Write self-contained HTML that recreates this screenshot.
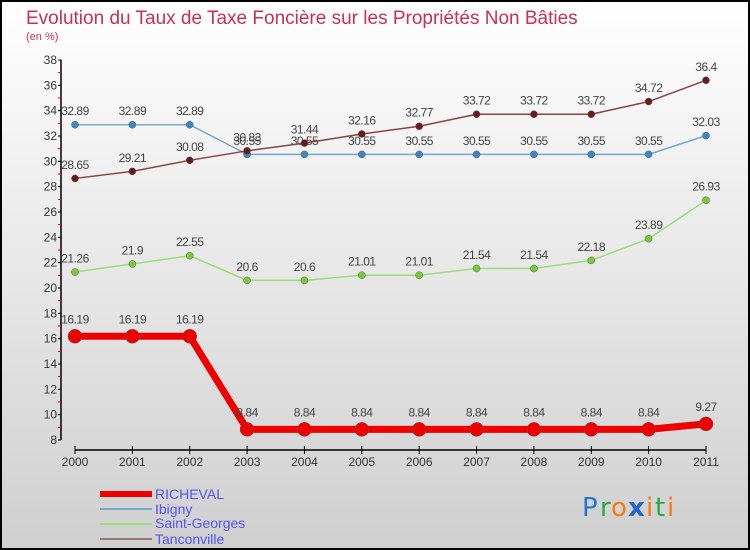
<!DOCTYPE html>
<html><head><meta charset="utf-8"><style>
body{margin:0}
svg{display:block;font-family:"Liberation Sans",sans-serif}
</style></head><body>
<svg id="chart" width="750" height="550" xmlns="http://www.w3.org/2000/svg">
<defs><linearGradient id="bg" x1="0" y1="0" x2="0" y2="1"><stop offset="0" stop-color="#ffffff"/><stop offset="1" stop-color="#cfcfcf"/></linearGradient></defs>
<rect x="1" y="1" width="748" height="548" fill="url(#bg)" stroke="#000" stroke-width="2"/>
<text x="26" y="24" font-size="19" fill="#c8305a">Evolution du Taux de Taxe Foncière sur les Propriétés Non Bâties</text>
<text x="26" y="40" font-size="11" fill="#c8305a">(en %)</text>
<g id="axes"></g>
<g id="series"></g>
<g id="legend">
<line x1="100" y1="494" x2="152" y2="494" stroke="#ee0000" stroke-width="6"/>
<text x="155" y="499" font-size="14" fill="#5555ee">RICHEVAL</text>
<line x1="100" y1="509" x2="152" y2="509" stroke="#77a8cc" stroke-width="2"/>
<text x="155" y="514" font-size="14" fill="#5555ee">Ibigny</text>
<line x1="100" y1="524" x2="152" y2="524" stroke="#99dd77" stroke-width="2"/>
<text x="155" y="528" font-size="14" fill="#5555ee">Saint-Georges</text>
<line x1="100" y1="539" x2="152" y2="539" stroke="#997777" stroke-width="2"/>
<text x="155" y="544" font-size="14" fill="#5555ee">Tanconville</text>
</g>
<g font-size="26" font-family="'DejaVu Sans',sans-serif">
<text x="582" y="516" fill="#2277cc">P</text><text x="600" y="516" fill="#22aa44">r</text><text x="611" y="516" fill="#ff7711">o</text><text x="628" y="516" fill="#2266cc" font-weight="bold">x</text><text x="646" y="516" fill="#ff7711">i</text><text x="655" y="516" fill="#22aa44">t</text><text x="667" y="516" fill="#ff7711">i</text>
</g>
</svg>
<script>
const years=[2000,2001,2002,2003,2004,2005,2006,2007,2008,2009,2010,2011];
const yTicks=[8,10,12,14,16,18,20,22,24,26,28,30,32,34,36,38];
const richeval=[16.19,16.19,16.19,8.84,8.84,8.84,8.84,8.84,8.84,8.84,8.84,9.27];
const ibigny=[32.89,32.89,32.89,30.55,30.55,30.55,30.55,30.55,30.55,30.55,30.55,32.03];
const saintGeorges=[21.26,21.9,22.55,20.6,20.6,21.01,21.01,21.54,21.54,22.18,23.89,26.93];
const tanconville=[28.65,29.21,30.08,30.83,31.44,32.16,32.77,33.72,33.72,33.72,34.72,36.4];
const NS="http://www.w3.org/2000/svg";
const X=i=>75+i*(706-75)/(years.length-1);
const Y=v=>440-(v-8)*(380/30);
function mk(tag,attrs,parent){const e=document.createElementNS(NS,tag);for(const k in attrs)e.setAttribute(k,attrs[k]);parent.appendChild(e);return e;}
const axes=document.getElementById('axes');
let a=mk('line',{x1:61,y1:60,x2:61,y2:440,stroke:'#000','stroke-width':1.5},axes);


yTicks.forEach(t=>{
 const y=Y(t);
 mk('line',{x1:58,y1:y,x2:61,y2:y,stroke:'#000'},axes);
 if(t<38) mk('line',{x1:58,y1:Y(t+1),x2:61,y2:Y(t+1),stroke:'#e00'},axes);
 const tx=mk('text',{x:57,y:y+4,'font-size':12,'text-anchor':'end',fill:'#333'},axes);
 tx.textContent=t;
 
 
});
a=mk('line',{x1:75,y1:450,x2:706,y2:450,stroke:'#000','stroke-width':1.5},axes);


years.forEach((yr,i)=>{
 mk('line',{x1:X(i),y1:446,x2:X(i),y2:454,stroke:'#000'},axes);
 const tx=mk('text',{x:X(i),y:466,'font-size':12,'text-anchor':'middle',fill:'#333'},axes);
 tx.textContent=yr;
 
 
});
const sg=document.getElementById('series');
function series(vals,name,line,dot,w,r){
 const g=mk('g',{},sg);
 
 
 const p=mk('polyline',{points:vals.map((v,i)=>X(i)+','+Y(v)).join(' '),fill:'none',stroke:line,'stroke-width':w,'stroke-linejoin':'round'},g);
 
 
 vals.forEach((v,i)=>{
  const c=mk('circle',{cx:X(i),cy:Y(v),r:r,fill:dot,stroke:'#555','stroke-width':0.5},g);
  
  
  const t=mk('text',{x:X(i),y:Y(v)-r-6,'font-size':12,'text-anchor':'middle',fill:'#444','letter-spacing':'-0.5'},g);
  t.textContent=String(v);
  
  
 });
}
series(ibigny,'ibigny','#77a8cc','#3a88c8',1.5,3.5);
series(tanconville,'tanconville','#884444','#6a1a1a',1.5,3.5);
series(saintGeorges,'saint-georges','#99dd77','#77cc33',1.5,3.5);
series(richeval,'richeval','#ee0000','#ee0000',7,7);
</script>
</body></html>
